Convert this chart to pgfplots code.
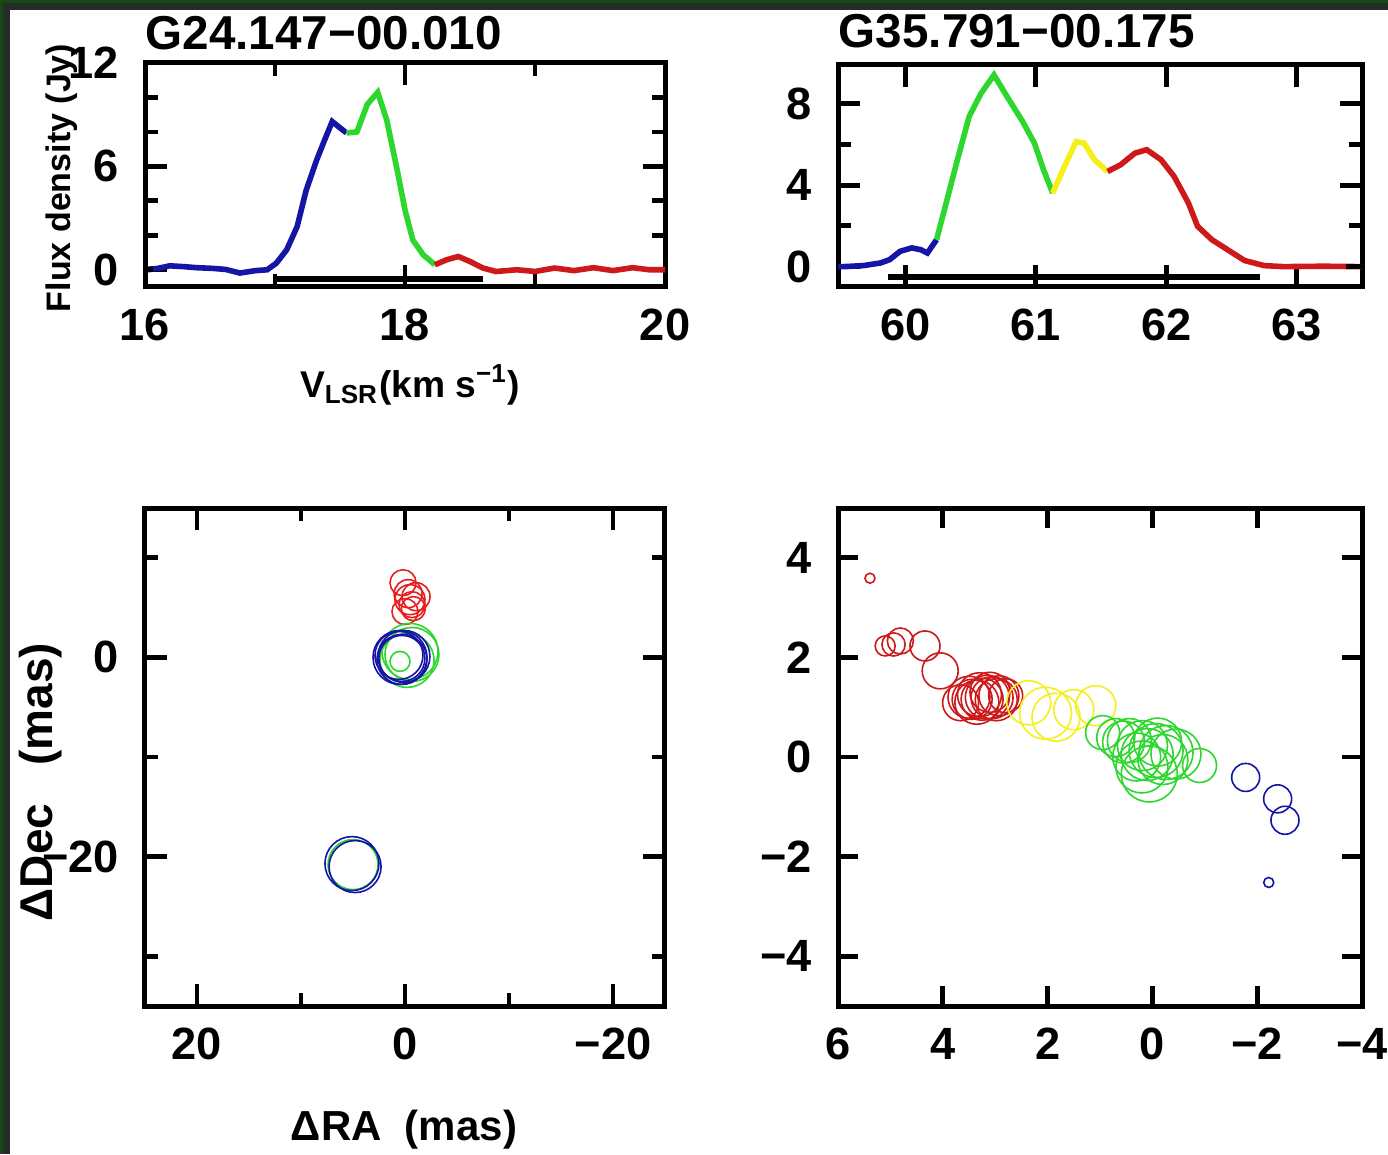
\documentclass[border=0pt]{standalone}
\usepackage{fontspec}
\setmainfont{Liberation Sans}
\usepackage{pgfplots}
\pgfplotsset{compat=1.18}

\definecolor{pblue}{RGB}{20,20,165}
\definecolor{pgreen}{RGB}{45,215,45}
\definecolor{pred}{RGB}{205,25,25}
\definecolor{pred2}{RGB}{230,30,30}
\definecolor{pyel}{RGB}{245,240,25}
\definecolor{bordgray}{RGB}{40,44,40}
\definecolor{bordgreen}{RGB}{20,75,20}

\newcommand{\tfont}{\fontsize{11.3}{12}\selectfont\bfseries}

\pgfplotsset{
  pgbox/.style={
    scale only axis, anchor=south west,
    axis line style={line width=1.25pt},
    tick style={black, line width=1.2pt},
    tick align=inside, tick pos=both,
    major tick length=5.5pt, minor tick length=3.2pt,
    tick label style={font=\tfont},
    xticklabel style={yshift=-2pt},
    yticklabel style={xshift=-3pt},
    every axis title shift=0pt,
    title style={anchor=base west, inner sep=0pt, yshift=0pt, font=\fontsize{11.9}{12}\selectfont\bfseries},
  },
  circ/.style 2 args={scatter, only marks, mark=o,
    scatter/use mapped color={draw=#1, fill=none},
    visualization depends on={\thisrow{r}\as\rr},
    scatter/@pre marker code/.append style={/tikz/mark size=\rr, /tikz/line width=#2}},
}

\begin{document}
\begin{tikzpicture}
\useasboundingbox (0,0) rectangle (347pt,-288.5pt);
\fill[white] (0,0) rectangle (347pt,-288.5pt);
% frame of the screenshot
\fill[bordgray] (0,0) rectangle (347pt,-2.5pt);
\fill[bordgray] (0,0) rectangle (2.5pt,-288.5pt);
\fill[bordgreen] (0,0) rectangle (347pt,-0.7pt);
\fill[bordgreen] (0,0) rectangle (0.7pt,-288.5pt);

% --- G24.147-00.010 spectrum ---
\begin{axis}[pgbox, at={(36.25pt,-71.75pt)}, width=130pt, height=56pt,
  xmin=16, xmax=20, ymin=-1, ymax=12,
  xtick={16,18,20}, minor xtick={17,19},
  ytick={0,6,12}, minor ytick={2,4,8,10},
  xticklabels={16,18,20}, yticklabels={0,6,12},
  title={G24.147−00.010}, title style={at={(axis description cs:0,1.058)}},
  xlabel={V\textsubscript{LSR}(km s\textsuperscript{−1})},
  xlabel style={at={(axis description cs:0.51,-0.4375)}, anchor=center, font=\fontsize{9.3}{10}\selectfont\bfseries},
  ylabel={Flux density (Jy)},
  ylabel style={at={(axis description cs:-0.16,0.487)}, anchor=center, font=\fontsize{8.5}{9}\selectfont\bfseries},
]
\addplot[pblue, line width=1.4pt] coordinates {(16.00,0.00) (16.10,0.08) (16.19,0.23) (16.30,0.18) (16.40,0.12) (16.52,0.08) (16.62,0.02) (16.73,-0.19) (16.85,-0.05) (16.94,0.0) (17.01,0.38) (17.09,1.16) (17.17,2.5) (17.24,4.62) (17.32,6.36) (17.38,7.5) (17.44,8.6) (17.55,7.94)};
\addplot[pgreen, line width=1.4pt] coordinates {(17.55,7.94) (17.63,8.0) (17.71,9.6) (17.79,10.3) (17.86,8.67) (17.94,5.78) (18.0,3.47) (18.06,1.73) (18.14,0.87) (18.23,0.29)};
\addplot[pred, line width=1.4pt] coordinates {(18.23,0.29) (18.32,0.58) (18.41,0.77) (18.5,0.48) (18.6,0.1) (18.7,-0.1) (18.86,0.0) (19.0,-0.1) (19.15,0.1) (19.3,-0.05) (19.45,0.12) (19.6,-0.05) (19.75,0.12) (19.88,0.0) (20.0,0.0)};
\addplot[black, line width=1.4pt] coordinates {(16.0,0.0) (16.06,0.04)};
\addplot[black, line width=1.5pt] coordinates {(17.0,-0.55) (18.6,-0.55)};
\end{axis}

% --- G35.791-00.175 spectrum ---
\begin{axis}[pgbox, at={(209.5pt,-71.75pt)}, width=131pt, height=55.5pt,
  xmin=59.485, xmax=63.5, ymin=-1, ymax=9.9,
  xtick={60,61,62,63}, xticklabels={60,61,62,63},
  ytick={0,4,8}, minor ytick={2,6}, yticklabels={0,4,8},
  title={G35.791−00.175}, title style={at={(axis description cs:0,1.077)}},
]
\addplot[pblue, line width=1.4pt] coordinates {(59.485,0.0) (59.53,0.0) (59.68,0.05) (59.81,0.18) (59.88,0.34) (59.96,0.75) (60.05,0.92) (60.12,0.83) (60.17,0.67) (60.24,1.32)};
\addplot[pgreen, line width=1.4pt] coordinates {(60.24,1.32) (60.32,3.28) (60.40,5.25) (60.49,7.37) (60.58,8.5) (60.68,9.41) (60.78,8.35) (60.90,7.12) (60.99,6.06) (61.06,4.75) (61.13,3.61)};
\addplot[pyel, line width=1.4pt] coordinates {(61.13,3.61) (61.22,4.92) (61.31,6.14) (61.37,6.06) (61.45,5.25) (61.55,4.67)};
\addplot[pred, line width=1.4pt] coordinates {(61.55,4.67) (61.65,5.0) (61.76,5.57) (61.85,5.74) (61.96,5.25) (62.06,4.43) (62.17,3.12) (62.24,1.98) (62.35,1.32) (62.47,0.83) (62.6,0.3) (62.75,0.05) (62.9,0.0) (63.2,0.02) (63.5,0.0)};
\addplot[black, line width=1.4pt] coordinates {(63.38,0.0) (63.5,0.0)};
\addplot[black, line width=1.5pt] coordinates {(59.87,-0.5) (62.72,-0.5)};
\end{axis}

% --- G24.147-00.010 spot map ---
\begin{axis}[pgbox, at={(36.25pt,-251.5pt)}, width=130pt, height=124.5pt,
  x dir=reverse, xmin=-25, xmax=25, ymin=-35, ymax=15,
  xtick={-20,0,20}, minor xtick={-10,10}, xticklabels={−20,0,20},
  ytick={-20,0}, minor ytick={-30,-10,10}, yticklabels={−20,0},
  xlabel={ΔRA\ \ (mas)},
  xlabel style={at={(axis description cs:0.498,-0.249)}, anchor=center, font=\fontsize{10.5}{11}\selectfont\bfseries},
  ylabel={ΔDec\ \ \ (mas)},
  ylabel style={at={(axis description cs:-0.2,0.45)}, anchor=center, font=\fontsize{11.5}{12}\selectfont\bfseries},
]
\addplot[circ={pred2}{0.9pt}] table {
x y r
0.19 7.5 3.25
-0.48 5.8 3.75
-0.67 5.3 3.25
0.0 4.6 3.25
-1.06 6.1 3.5
-0.3 6.4 3.5
-0.8 4.9 3.0
};
\addplot[circ={pgreen}{1.6pt}] table {
x y r
-0.48 0.6 7.0
-0.67 0.3 6.75
-0.2 -0.3 6.75
0.48 -0.4 2.5
5.0 -20.8 6.25
};
\addplot[circ={pblue}{1.2pt}] table {
x y r
0.48 0.0 6.75
0.29 -0.2 6.25
0.1 0.1 6.5
0.58 0.2 6.0
0.3 -0.1 5.75
5.1 -20.7 6.75
4.8 -21.0 6.5
};
\end{axis}

% --- G35.791-00.175 spot map ---
\begin{axis}[pgbox, at={(209.5pt,-251.5pt)}, width=131pt, height=124.5pt,
  x dir=reverse, xmin=-4, xmax=6, ymin=-5, ymax=5,
  xtick={-4,-2,0,2,4,6}, xticklabels={−4,−2,0,2,4,6},
  ytick={-4,-2,0,2,4}, yticklabels={−4,−2,0,2,4},
  major tick length=5pt,
]
\addplot[circ={pred}{0.85pt}] table {
x y r
5.39 3.59 1.25
5.10 2.23 2.5
4.94 2.26 2.9
4.81 2.33 3.25
4.34 2.23 3.75
4.05 1.73 4.5
3.66 1.09 4.5
3.50 1.20 5.25
3.44 1.16 5.0
3.35 1.10 5.5
3.30 1.25 5.5
3.25 1.16 5.25
3.15 1.20 5.5
3.10 1.30 5.0
3.06 1.19 5.25
2.98 1.15 5.25
2.93 1.23 5.0
2.80 1.23 4.25
};
\addplot[circ={pyel}{0.85pt}] table {
x y r
2.36 1.09 5.5
2.04 0.88 6.5
1.84 0.80 6.0
1.50 0.95 5.0
1.08 1.03 5.0
};
\addplot[circ={pgreen}{0.85pt}] table {
x y r
0.95 0.49 4.25
0.70 0.39 4.75
0.55 0.30 5.25
0.44 0.33 5.5
0.30 0.00 6.0
0.19 0.23 6.25
0.10 0.05 6.5
-0.07 0.13 6.75
-0.10 0.30 6.0
-0.20 -0.05 6.25
-0.26 0.09 6.75
0.06 -0.34 7.0
0.20 -0.20 6.5
-0.45 0.06 6.25
-0.90 -0.17 4.25
};
\addplot[circ={pblue}{0.85pt}] table {
x y r
-1.78 -0.41 3.5
-2.39 -0.84 3.5
-2.53 -1.27 3.5
-2.22 -2.52 1.25
};
\end{axis}
\end{tikzpicture}
\end{document}
